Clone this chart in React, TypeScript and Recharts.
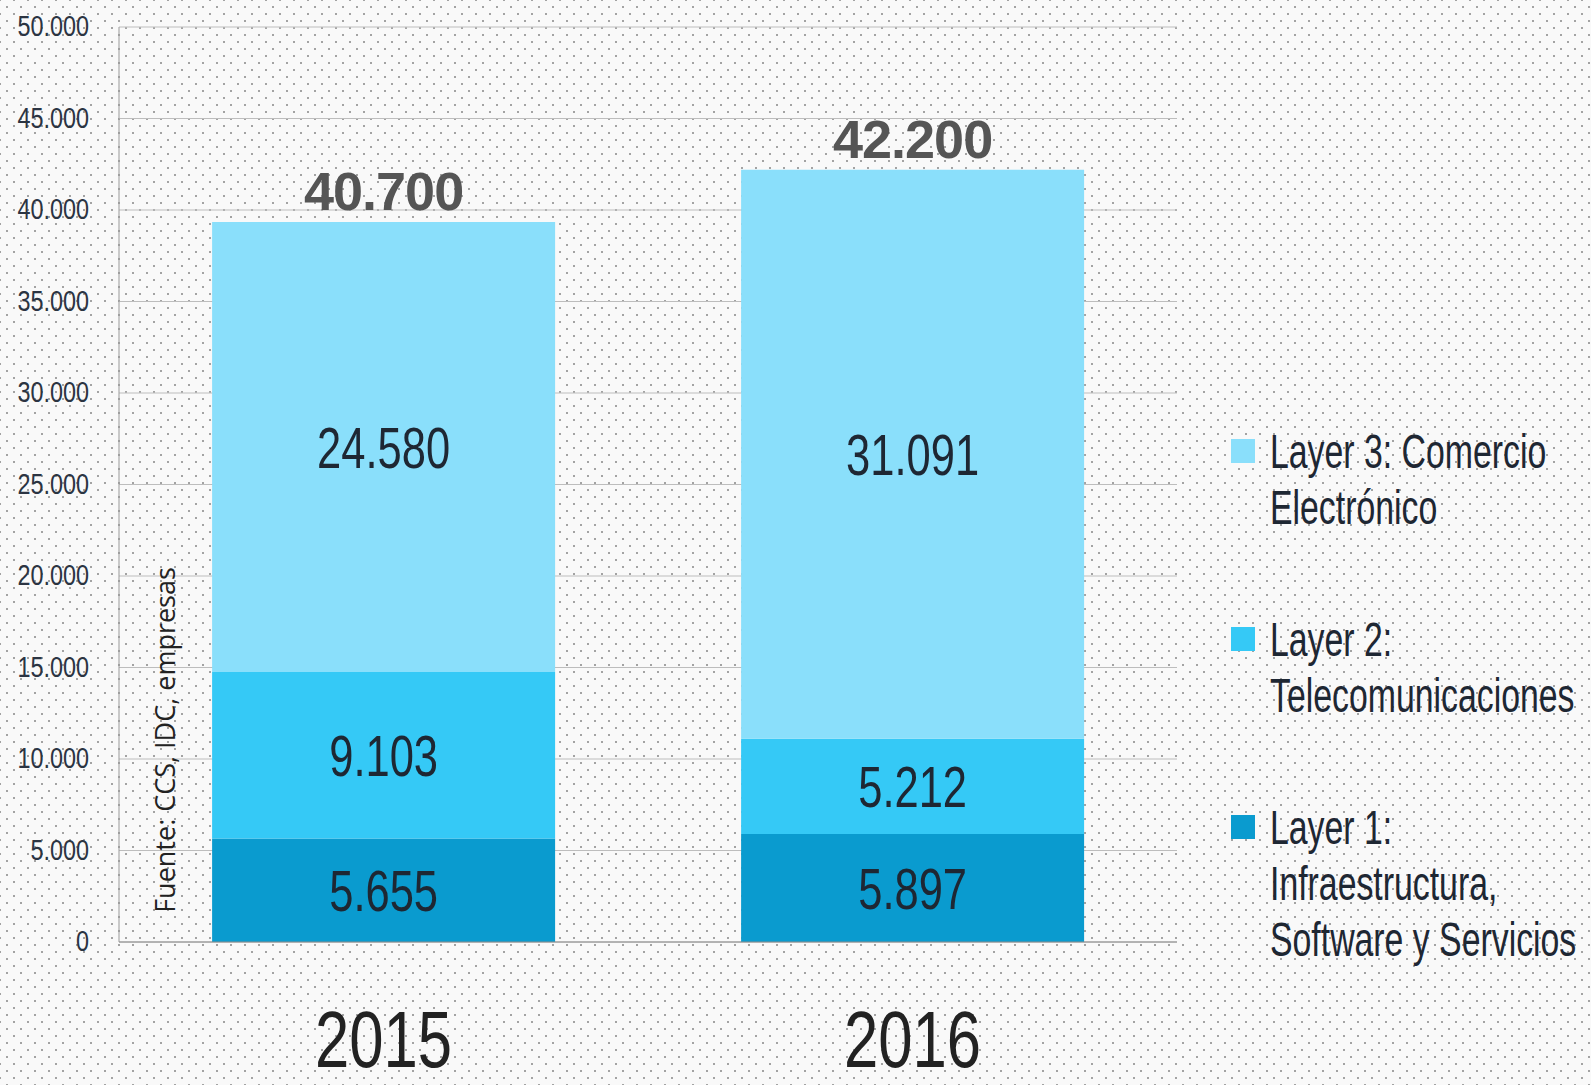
import { BarChart, Bar, XAxis, YAxis, CartesianGrid, LabelList, Legend } from "recharts";

const years = ["2015", "2016"];
const layer1 = [5655, 5897];
const layer2 = [9103, 5212];
const layer3 = [24580, 31091];
const totals = [40700, 42200];
const yTicks = [0, 5000, 10000, 15000, 20000, 25000, 30000, 35000, 40000, 45000, 50000];

const legendLines: Record<string, string[]> = {
  layer3: ["Layer 3: Comercio", "Electrónico"],
  layer2: ["Layer 2:", "Telecomunicaciones"],
  layer1: ["Layer 1:", "Infraestructura,", "Software y Servicios"],
};

const data = years.map((year, i) => ({
  year,
  layer1: layer1[i],
  layer2: layer2[i],
  layer3: layer3[i],
  total: totals[i],
}));

// no condensed font installed, so squeeze Liberation Sans horizontally
const SANS = "'Liberation Sans', Arial, sans-serif";
const TEXT = "#1e2733";

const fmt = (n: number) => String(n).replace(/\B(?=(\d{3})+(?!\d))/g, ".");

const CondText = ({ x, y, dy, anchor = "middle", size, squeeze, fill = TEXT, children }: any) => (
  <text
    transform={`translate(${x},${y}) scale(${squeeze},1)`}
    x={0}
    y={0}
    dy={dy}
    textAnchor={anchor}
    fontSize={size}
    fontFamily={SANS}
    fill={fill}
  >
    {children}
  </text>
);

const SegmentLabel = (props: any) => {
  const { x, y, width, height, value } = props;
  return (
    <CondText x={x + width / 2} y={y + height / 2} dy="0.36em" size={58} squeeze={0.75}>
      {fmt(value)}
    </CondText>
  );
};

const TotalLabel = (props: any) => {
  const { x, y, width, value } = props;
  return (
    <text
      x={x + width / 2}
      y={y - 12}
      textAnchor="middle"
      fontSize={54}
      fontWeight="bold"
      fontFamily={SANS}
      letterSpacing={-1}
      fill="#555"
    >
      {fmt(value)}
    </text>
  );
};

const YTick = (props: any) => {
  const { x, y, payload } = props;
  return (
    <CondText x={x} y={y} dy="0.3em" anchor="end" size={30} squeeze={0.78} fill="#2b3442">
      {fmt(payload.value)}
    </CondText>
  );
};

const XTick = (props: any) => {
  const { x, y, payload } = props;
  return (
    <CondText x={x} y={y} dy="0.71em" size={80} squeeze={0.77} fill="#222">
      {payload.value}
    </CondText>
  );
};

const LegendContent = (props: any) => {
  const items = [...(props.payload || [])].reverse();
  return (
    <div style={{ fontFamily: SANS, fontSize: 49, color: TEXT, lineHeight: "56px" }}>
      {items.map((it: any) => (
        <div key={it.dataKey} style={{ display: "flex", alignItems: "flex-start", marginBottom: 76 }}>
          <div style={{ width: 24, height: 24, background: it.color, marginTop: 16, marginRight: 15, flex: "none" }} />
          <div>
            {legendLines[it.dataKey].map((l) => (
              <div
                key={l}
                style={{ whiteSpace: "nowrap", transform: "scaleX(0.69)", transformOrigin: "0 50%" }}
              >
                {l}
              </div>
            ))}
          </div>
        </div>
      ))}
    </div>
  );
};

export default function App() {
  return (
    <div
      style={{
        position: "absolute",
        left: 0,
        top: 0,
        width: 1591,
        height: 1085,
        backgroundColor: "#f9f9f9",
        backgroundImage:
          "radial-gradient(circle, #a3a3a3 0.9px, transparent 1.3px), radial-gradient(circle, #a3a3a3 0.9px, transparent 1.3px)",
        backgroundSize: "14px 14px, 14px 14px",
        backgroundPosition: "0 0, 7px 7px",
        overflow: "hidden",
      }}
    >
      <BarChart
        width={1591}
        height={1085}
        data={data}
        margin={{ top: 27, right: 414, left: 0, bottom: 0 }}
        barCategoryGap="17.6%"
      >
        <CartesianGrid vertical={false} stroke="#bdbdbd" />
        <XAxis
          dataKey="year"
          height={143}
          axisLine={{ stroke: "#8a8a8a" }}
          tickLine={false}
          tickSize={0}
          tickMargin={68}
          tick={XTick}
        />
        <YAxis
          width={119}
          domain={[0, 50000]}
          ticks={yTicks}
          interval={0}
          axisLine={{ stroke: "#999" }}
          tickLine={false}
          tickSize={0}
          tickMargin={30}
          tick={YTick}
        />
        <Legend
          layout="vertical"
          align="center"
          verticalAlign="middle"
          content={LegendContent}
          wrapperStyle={{ left: 1231, top: 423, width: 360 }}
        />
        <Bar dataKey="layer1" stackId="a" fill="#0a9bcf" isAnimationActive={false}>
          <LabelList dataKey="layer1" content={SegmentLabel} />
        </Bar>
        <Bar dataKey="layer2" stackId="a" fill="#35c9f6" isAnimationActive={false}>
          <LabelList dataKey="layer2" content={SegmentLabel} />
        </Bar>
        <Bar dataKey="layer3" stackId="a" fill="#8adffb" isAnimationActive={false}>
          <LabelList dataKey="layer3" content={SegmentLabel} />
          <LabelList dataKey="total" content={TotalLabel} />
        </Bar>
      </BarChart>
      <div
        style={{
          position: "absolute",
          left: 164,
          top: 740,
          transform: "translate(-50%, -50%) rotate(-90deg)",
          whiteSpace: "nowrap",
          fontFamily: "'Open Sans', sans-serif",
          fontSize: 27,
          color: "#222",
        }}
      >
        Fuente: CCS, IDC, empresas
      </div>
    </div>
  );
}
